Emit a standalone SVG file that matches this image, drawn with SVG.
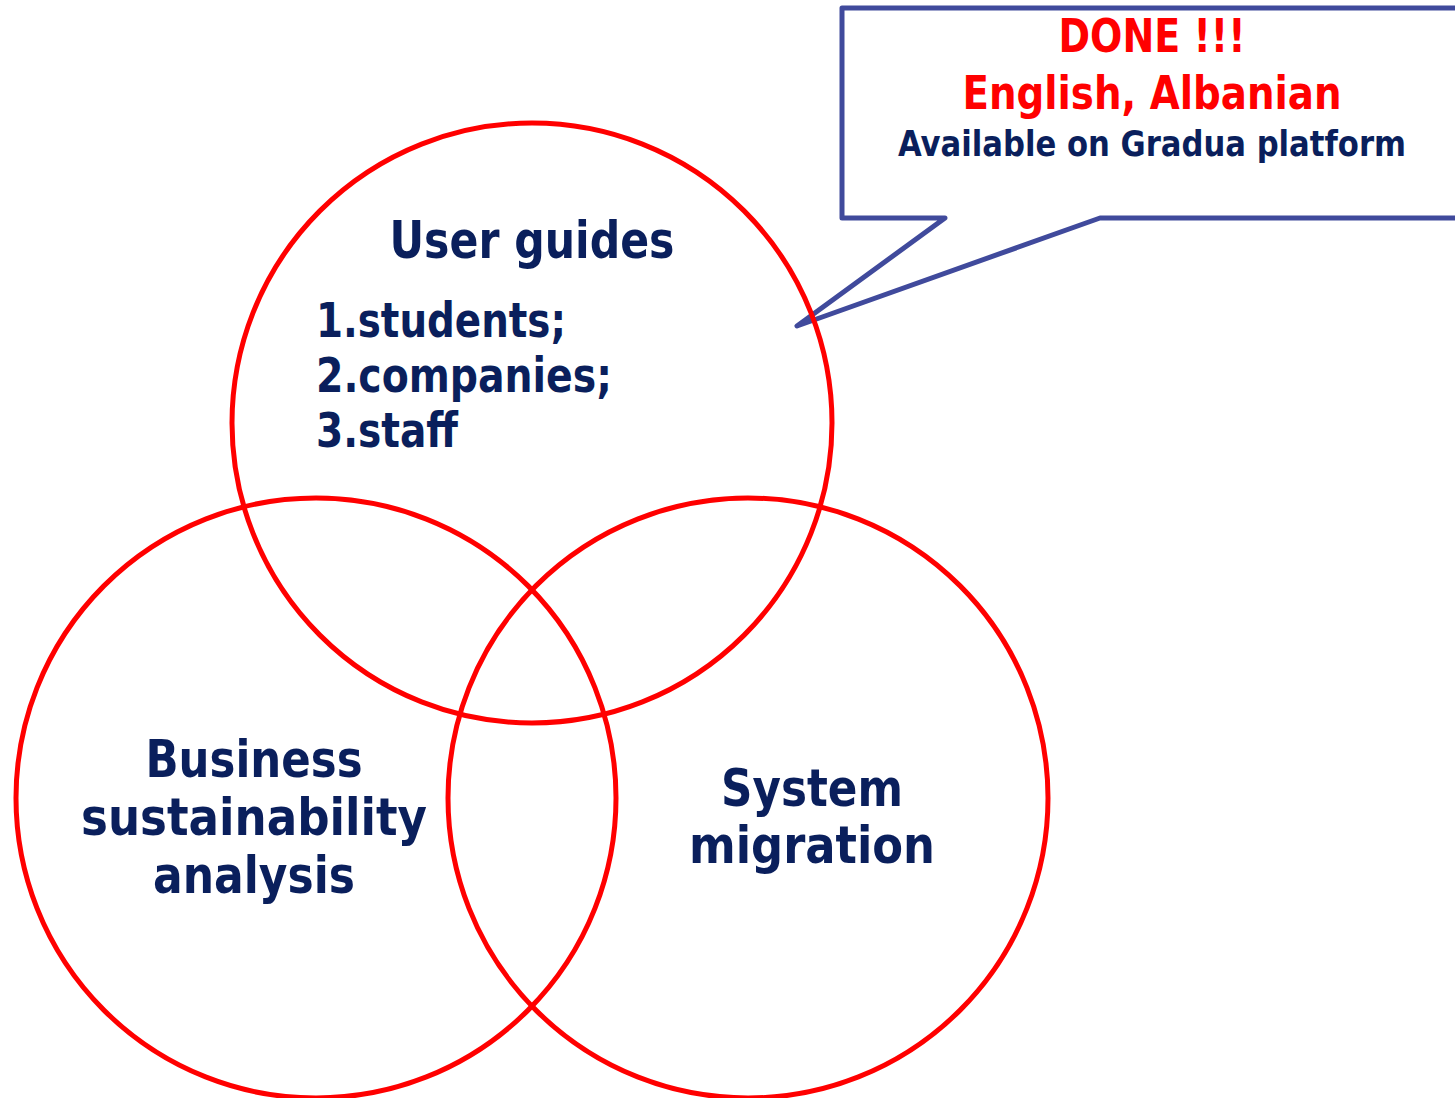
<svg xmlns="http://www.w3.org/2000/svg" width="1455" height="1098" viewBox="0 0 1455 1098">
<style>
.c{fill:none;stroke:#ff0000;stroke-width:5}
.t{font-family:"DejaVu Sans Condensed","DejaVu Sans",sans-serif;font-weight:bold;fill:#0a1f5c}
.r{fill:#ff0000}
</style>
<rect width="1455" height="1098" fill="#ffffff"/>
<g id="callout">
<path d="M1460,8 L842,8 L842,218 L945,218 L797,326 L1100,218 L1460,218" fill="#ffffff" stroke="#404a9c" stroke-width="5" stroke-linejoin="round" stroke-linecap="round"/>
<text class="t r" x="1152" y="52" font-size="46" text-anchor="middle" textLength="187" lengthAdjust="spacingAndGlyphs">DONE !!!</text>
<text class="t r" x="1152" y="109" font-size="46" text-anchor="middle" textLength="379" lengthAdjust="spacingAndGlyphs">English, Albanian</text>
<text class="t" x="1152" y="156" font-size="36" text-anchor="middle" textLength="508" lengthAdjust="spacingAndGlyphs">Available on Gradua platform</text>
</g>
<g id="user-guides">
<circle class="c" cx="532" cy="423" r="300"/>
<text class="t" x="532" y="258" font-size="52" text-anchor="middle" textLength="285" lengthAdjust="spacingAndGlyphs">User guides</text>
<text class="t" x="316" y="337" font-size="48" textLength="250" lengthAdjust="spacingAndGlyphs">1.students;</text>
<text class="t" x="316" y="392" font-size="48" textLength="296" lengthAdjust="spacingAndGlyphs">2.companies;</text>
<text class="t" x="316" y="447" font-size="48" textLength="142" lengthAdjust="spacingAndGlyphs">3.staff</text>
</g>
<g id="business">
<circle class="c" cx="316" cy="798" r="300"/>
<text class="t" x="254" y="777" font-size="52" text-anchor="middle" textLength="217" lengthAdjust="spacingAndGlyphs">Business</text>
<text class="t" x="254" y="835" font-size="52" text-anchor="middle" textLength="346" lengthAdjust="spacingAndGlyphs">sustainability</text>
<text class="t" x="254" y="893" font-size="52" text-anchor="middle" textLength="202" lengthAdjust="spacingAndGlyphs">analysis</text>
</g>
<g id="system">
<circle class="c" cx="748" cy="798" r="300"/>
<text class="t" x="812" y="806" font-size="52" text-anchor="middle" textLength="182" lengthAdjust="spacingAndGlyphs">System</text>
<text class="t" x="812" y="863" font-size="52" text-anchor="middle" textLength="246" lengthAdjust="spacingAndGlyphs">migration</text>
</g>
<g id="connectors"></g>
</svg>
